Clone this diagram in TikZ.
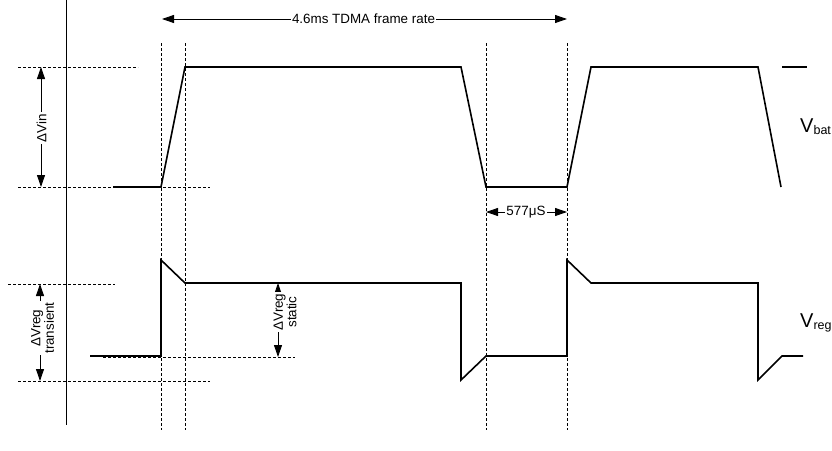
\documentclass[tikz,border=0pt]{standalone}
\usepackage{fontspec}
\setmainfont{Liberation Sans}
\usetikzlibrary{arrows.meta}
\begin{document}
\begin{tikzpicture}[x=1pt,y=-1pt,
  wave/.style={line width=1.6pt, line join=miter},
  guide/.style={line width=0.8pt, dash pattern=on 3pt off 2pt},
  axisline/.style={line width=0.9pt},
  dim/.style={line width=0.9pt, {Triangle[length=12pt,width=8pt]}-{Triangle[length=12pt,width=8pt]}},
  lbl/.style={fill=white, inner sep=1.5pt, font=\fontsize{13.4}{13.5}\selectfont, align=center},
  siglbl/.style={anchor=base west, inner sep=0pt, font=\fontsize{20}{20}\selectfont},
]
\useasboundingbox (0,0) rectangle (832,450);

% axis
\coordinate (axT) at (66,0);
\coordinate (axB) at (66,425);
\draw[axisline] (axT) -- (axB);

% vertical dashed guides
\foreach \n/\x in {ga/161, gb/185, gc/486, gd/567}{
  \coordinate (\n T) at (\x,43);
  \coordinate (\n B) at (\x,430);
  \draw[guide] (\n T) -- (\n B);
}

% horizontal dashed guides
\coordinate (h1a) at (18,67);   \coordinate (h1b) at (138,67);
\coordinate (h2a) at (18,187);  \coordinate (h2b) at (210,187);
\coordinate (h3a) at (8,284);   \coordinate (h3b) at (115,284);
\coordinate (h4a) at (18,381);  \coordinate (h4b) at (210,381);
\coordinate (h5a) at (103,357); \coordinate (h5b) at (295,357);
\draw[guide] (h1a) -- (h1b);
\draw[guide] (h2a) -- (h2b);
\draw[guide] (h3a) -- (h3b);
\draw[guide] (h4a) -- (h4b);
\draw[guide] (h5a) -- (h5b);

% Vbat waveform
\draw[wave] (113,187) -- (161,187) -- (185,67) -- (461,67) -- (486,187)
  -- (567,187) -- (591,67) -- (758,67) -- (781,187);
\draw[wave] (782,67) -- (807,67);

% Vreg waveform
\draw[wave] (90,356) -- (161,356) -- (161,260) -- (185,283) -- (461,283)
  -- (461,380) -- (486,356) -- (567,356) -- (567,260) -- (591,283)
  -- (758,283) -- (758,380) -- (782,356) -- (803,356);

% dimension arrows
\coordinate (fA) at (162,19);  \coordinate (fB) at (567,19);
\draw[dim] (fA) -- (fB);
\node[lbl] (frame) at (363.5,19) {4.6ms TDMA frame rate};

\coordinate (sA) at (486,212); \coordinate (sB) at (567,212);
\draw[dim] (sA) -- (sB);
\node[lbl] (slot) at (526,212) {577μS};

\coordinate (vA) at (41,67); \coordinate (vB) at (41,187);
\draw[dim] (vA) -- (vB);
\node[lbl, rotate=90] (dvin) at (41.5,128) {ΔVin};

\coordinate (tA) at (40,284); \coordinate (tB) at (40,381);
\draw[dim] (tA) -- (tB);
\node[lbl, rotate=90] (dvt) at (42.5,328) {ΔVreg\\transient};

\coordinate (cA) at (278,283); \coordinate (cB) at (278,357);
\draw[dim] (cA) -- (cB);
\node[lbl, rotate=90] (dvs) at (285,312) {ΔVreg\\static};

% signal labels
\node[siglbl] (vbat) at (800,132) {V\raisebox{-2.7pt}{\fontsize{12.5}{12.5}\selectfont bat}};
\node[siglbl] (vreg) at (800,327) {V\raisebox{-2.7pt}{\fontsize{12.5}{12.5}\selectfont reg}};
\end{tikzpicture}
\end{document}
